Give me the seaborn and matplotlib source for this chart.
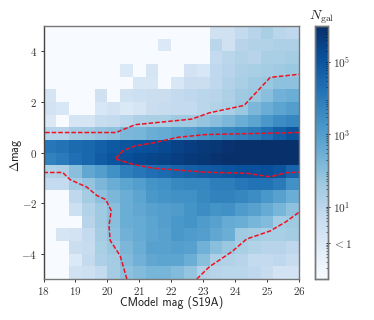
import matplotlib
matplotlib.use('Agg')
import matplotlib.pyplot as plt
from matplotlib.colors import LogNorm
from matplotlib.ticker import LogLocator, NullFormatter
import numpy as np
import pandas as pd
import seaborn as sns

# log10(N_gal) por fila, de arriba (dmag 4.5-5) hacia abajo, -1 = vacio
row_01 = [-1, -1, -1, -1, -1, -1, -1, -1, -1, -1, -1, -1, -1, .4, .4, .8, 1.1, 1.4, 1.0, .9]
row_02 = [-1, -1, -1, -1, -1, -1, -1, -1, -1, 0, -1, -1, -1, 1.0, .4, 1.1, 1.2, 1.2, 1.3, 1.3]
row_03 = [-1, -1, -1, -1, -1, -1, -1, -1, -1, -1, -1, -1, -1, .8, 1.0, 1.2, 1.1, 1.4, 1.4, 1.5]
row_04 = [-1, -1, -1, -1, -1, -1, 0, -1, .2, -1, -1, .3, .1, .9, 1.1, 1.3, 1.4, 1.5, 1.6, 1.7]
row_05 = [-1, -1, -1, -1, -1, -1, -1, .1, .1, -1, .1, .6, .6, .9, 1.2, 1.4, 1.6, 1.7, 1.9, 1.9]
row_06 = [.2, -1, -1, -1, .4, -1, .4, .5, .6, .6, .8, .9, 1.0, 1.1, 1.3, 1.6, 1.7, 2.0, 2.4, 2.5]
row_07 = [.3, .1, -1, -1, .1, .3, 0, .2, .6, .7, .8, .8, 1.0, 1.2, 1.4, 1.7, 2.2, 2.5, 2.8, 3.0]
row_08 = [0, -1, .2, .2, .7, .8, 1.0, 1.3, 1.4, 1.4, 1.6, 1.6, 1.8, 2.0, 2.2, 2.5, 2.8, 3.2, 3.5, 3.7]
row_09 = [1.1, 1.1, 1.5, 1.6, 1.8, 1.9, 2.2, 2.3, 2.5, 2.6, 2.8, 2.9, 3.2, 3.4, 3.6, 3.8, 4.0, 4.3, 4.7, 5.0]
row_10 = [4.1, 4.2, 4.4, 4.5, 4.7, 4.9, 5.0, 5.1, 5.2, 5.3, 5.5, 5.6, 5.7, 5.8, 5.9, 6, 6, 6, 6, 6]
row_11 = [3.8, 4.0, 4.3, 4.5, 4.8, 5.0, 5.2, 5.3, 5.4, 5.5, 5.6, 5.7, 5.8, 5.9, 6, 6, 6, 6, 6, 6]
row_12 = [1.2, 1.3, 2.0, 2.7, 3.0, 3.4, 3.9, 4.1, 4.3, 4.4, 4.6, 4.7, 4.8, 4.9, 5.0, 5.1, 5.1, 5.2, 5.0, 4.6]
row_13 = [.8, .8, 1.5, 1.8, 2.2, 2.5, 2.8, 3.0, 3.3, 3.4, 3.6, 3.7, 3.7, 3.9, 3.9, 4.1, 4.2, 4.2, 4.0, 3.4]
row_14 = [-1, -1, .9, 1.5, 1.9, 2.2, 2.5, 2.8, 3.2, 3.3, 3.4, 3.4, 3.6, 3.8, 3.8, 3.7, 3.5, 3.2, 2.9, 2.5]
row_15 = [-1, -1, .5, 1.2, 1.6, 2.0, 2.5, 2.7, 2.9, 3.0, 3.1, 3.3, 3.5, 3.3, 3.4, 3.1, 2.9, 2.6, 2.3, 1.9]
row_16 = [-1, -1, -1, 1.1, 1.6, 2.0, 2.5, 2.6, 2.8, 3.0, 3.2, 3.3, 3.1, 2.9, 2.6, 2.5, 2.3, 2.1, 1.5, 1.6]
row_17 = [-1, .2, .3, .8, 1.5, 1.9, 2.4, 2.6, 2.8, 2.9, 3.2, 3.1, 3.0, 2.7, 2.5, 1.6, 1.5, 1.4, 1.4, 1.5]
row_18 = [-1, -1, .6, .7, 1.4, 1.7, 2.2, 2.5, 2.9, 2.9, 3.0, 2.9, 2.4, 2.0, 1.7, 1.4, 1.2, 1.1, 1.1, .9]
row_19 = [-1, -1, 0, .8, 1.3, 1.5, 2.1, 2.4, 2.7, 2.8, 2.8, 2.5, 2.0, 1.3, 1.2, 1.1, .8, .8, .9, .7]
row_20 = [-1, -1, .4, .5, .8, 1.5, 1.9, 2.1, 2.3, 2.3, 2.1, 1.8, 1.2, 1.1, 1.0, 1.0, .9, .7, .3, .3]

# contornos rojos
arriba_x = [18.05, 20.27, 20.87, 22.64, 23.2, 24.28, 25.1, 26]
arriba_y = [.79, .79, 1.1, 1.32, 1.57, 1.86, 2.97, 3.09]
centro_x = [26, 23.1, 22.2, 21.44, 20.87, 20.5, 20.24, 20.87, 21.44, 23.1, 24.36, 25.1, 25.6, 26]
centro_y = [.79, .71, .6, .38, .26, .08, -.25, -.49, -.62, -.78, -.82, -.96, -.8, -.78]
izq_x = [18.0, 18.6, 18.83, 19.36, 19.67, 19.95, 20.12, 20.05, 20.09, 20.4, 20.61]
izq_y = [-.79, -.79, -1.07, -1.37, -1.7, -1.86, -2.3, -2.9, -3.48, -4.08, -5]
der_x = [22.8, 23.2, 23.9, 24.36, 25.1, 25.6, 26]
der_y = [-5, -4.51, -3.92, -3.42, -3.1, -2.73, -2.36]

x_ticks = [18, 19, 20, 21, 22, 23, 24, 25, 26]
y_ticks = [-4, -2, 0, 2, 4]
cbar_ticks = [1, 10, 1e3, 1e5]
cbar_labels = [r'$<1$', r'$10^1$', r'$10^3$', r'$10^5$']

plt.rcParams['font.family'] = 'cmss10'
plt.rcParams['mathtext.fontset'] = 'cm'
plt.rcParams['axes.formatter.use_mathtext'] = True

filas = [row_01, row_02, row_03, row_04, row_05, row_06, row_07, row_08, row_09, row_10,
         row_11, row_12, row_13, row_14, row_15, row_16, row_17, row_18, row_19, row_20]
df = pd.DataFrame(10.0 ** np.array(filas))


def a_col(x):
    return (np.asarray(x) - 18) / 0.4


def a_fila(y):
    return (5 - np.asarray(y)) / 0.5


W, H = 374, 320
fig = plt.figure(figsize=(W / 100, H / 100), dpi=100)
ax = fig.add_axes([43.5 / W, 1 - 279 / H, 255.5 / W, 253 / H])
cax = fig.add_axes([315 / W, 1 - 279 / H, 13 / W, 253 / H])

sns.heatmap(df, ax=ax, cbar_ax=cax, cmap='Blues', norm=LogNorm(vmin=0.1, vmax=1e6),
            xticklabels=False, yticklabels=False)

for xs, ys in [(arriba_x, arriba_y), (centro_x, centro_y), (izq_x, izq_y), (der_x, der_y)]:
    sns.lineplot(x=a_col(xs), y=a_fila(ys), ax=ax, sort=False, estimator=None,
                 color='#f01020', lw=1.1, ls=(0, (3, 1.3)), legend=False)

ax.set_xticks(a_col(x_ticks))
ax.set_xticklabels([f'${v}$' for v in x_ticks], fontsize=8, color='#333333')
ax.set_yticks(a_fila(y_ticks))
ax.set_yticklabels([f'${v}$' for v in y_ticks], fontsize=8, color='#333333')
ax.tick_params(length=2.5, width=0.7, pad=2, color='#333333')
# lineplot deja las etiquetas ocultas
ax.set_xlabel('CModel mag (S19A)', fontsize=8.6, color='#222222', visible=True)
ax.set_ylabel(r'$\Delta$mag', fontsize=8.8, color='#222222', visible=True)
ax.xaxis.set_label_coords(0.5, -0.068)
ax.yaxis.set_label_coords(-0.078, 0.49)
ax.set_xlim(0, 20)
ax.set_ylim(20, 0)
for lado in ax.spines:
    ax.spines[lado].set_visible(True)
    ax.spines[lado].set_linewidth(1.0)
    ax.spines[lado].set_color('#777777')
ax.spines['left'].set_color('#444444')

cax.yaxis.set_major_locator(plt.FixedLocator(cbar_ticks))
cax.set_yticklabels(cbar_labels, fontsize=8.2, color='#333333')
cax.yaxis.set_minor_locator(LogLocator(base=10, subs=np.arange(2, 10), numticks=12))
cax.yaxis.set_minor_formatter(NullFormatter())
cax.tick_params(which='major', length=2.5, width=0.6, pad=2, direction='inout')
cax.tick_params(which='minor', length=1.5, width=0.4, direction='in')
cax.set_title(r'$N_{\rm gal}$', fontsize=10, pad=3, color='#222222')
for lado in cax.spines:
    cax.spines[lado].set_visible(True)
    cax.spines[lado].set_linewidth(1.0)
    cax.spines[lado].set_color('#777777')

fig.savefig('out.png', dpi=100)
